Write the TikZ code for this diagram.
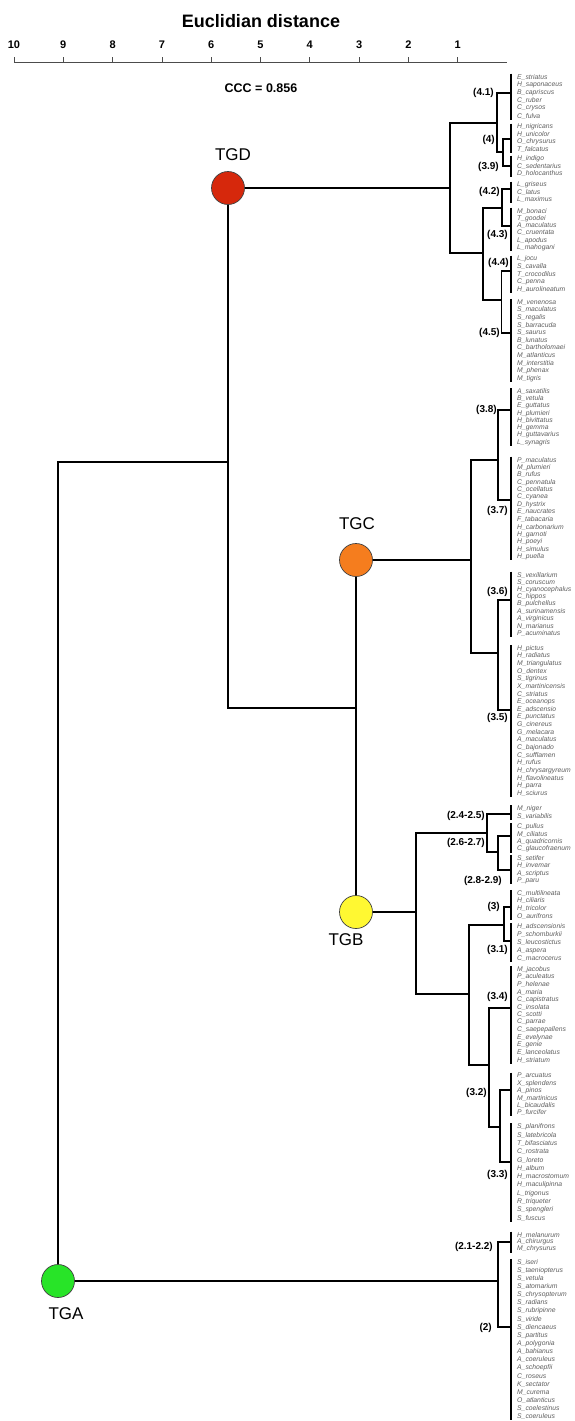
\documentclass[tikz,border=0pt]{standalone}
\usepackage{fontspec}
\setmainfont{Liberation Sans}
\definecolor{cD}{RGB}{214,40,12}
\definecolor{cC}{RGB}{245,125,30}
\definecolor{cB}{RGB}{255,248,50}
\definecolor{cA}{RGB}{40,228,40}
\definecolor{leafgray}{RGB}{95,95,95}
\tikzset{
  tr/.style={line width=1.6pt, line join=miter},
  bar/.style={line width=1.6pt},
  leaf/.style={anchor=west, inner sep=0pt, text=leafgray, font=\fontsize{6.8pt}{7pt}\selectfont\itshape},
  cl/.style={anchor=east, inner sep=0pt, font=\fontsize{10pt}{11pt}\selectfont\bfseries},
  tg/.style={circle, minimum size=33pt, inner sep=0pt, draw=black!75, line width=0.7pt},
  tgl/.style={inner sep=0pt, font=\fontsize{17pt}{18pt}\selectfont},
  tick/.style={inner sep=0pt, font=\fontsize{11pt}{12pt}\selectfont\bfseries},
}
\newcommand\clus[5]{%
  \pgfmathsetmacro\st{(#4-#3)/(#2-1)}
  \draw[bar] (511,{#3-3.5}) -- (511,{#4+3.5});
  \foreach \t [count=\i from 0] in {#5} {
    \node[leaf] (#1-\i) at (517,{#3+\i*\st}) {\t};
  }
}
\begin{document}
\begin{tikzpicture}[x=1pt,y=-1pt]
\useasboundingbox (0,0) rectangle (574,1421);
\fill[white] (0,0) rectangle (574,1421);
% axis
\node[inner sep=0pt, font=\fontsize{18pt}{20pt}\selectfont\bfseries] (title) at (261,21) {Euclidian distance};
\draw[black!70, line width=0.8pt] (14,62) -- (507,62);
\foreach \k in {1,...,10} {
  \draw[black!70, line width=0.8pt] ({507-49.3*\k},62) -- ({507-49.3*\k},57);
  \node[tick] (t\k) at ({507-49.3*\k},45) {\k};
}
\node[inner sep=0pt, font=\fontsize{12.5pt}{14pt}\selectfont\bfseries] (ccc) at (261,88) {CCC = 0.856};

% leaf clusters
\clus{c41}{6}{77}{116}{E\_striatus, H\_saponaceus, B\_capriscus, C\_ruber, C\_crysos, C\_fulva}
\clus{c4}{4}{127}{149}{H\_nigricans, H\_unicolor, O\_chrysurus, T\_falcatus}
\clus{c39}{3}{159}{173.3}{H\_indigo, C\_sedentarius, D\_holocanthus}
\clus{c42}{3}{185}{199}{L\_griseus, C\_latus, L\_maximus}
\clus{c43}{6}{211}{247.7}{M\_bonaci, T\_goodei, A\_maculatus, C\_cruentata, L\_apodus, L\_mahogani}
\clus{c44}{5}{259}{289}{L\_jocu, S\_cavalla, T\_crocodilus, C\_penna, H\_aurolineatum}
\clus{c45}{11}{302.3}{378.3}{M\_venenosa, S\_maculatus, S\_regalis, S\_barracuda, S\_saurus, B\_lunatus, C\_bartholomaei, M\_atlanticus, M\_interstitia, M\_phenax, M\_tigris}
\clus{c38}{8}{391.7}{442.3}{A\_saxatilis, B\_vetula, E\_guttatus, H\_plumieri, H\_bivittatus, H\_gemma, H\_guttavarius, L\_synagris}
\clus{c37}{14}{460}{556.7}{P\_maculatus, M\_plumieri, B\_rufus, C\_pennatula, C\_ocellatus, C\_cyanea, D\_hystrix, E\_naucrates, F\_tabacaria, H\_carbonarium, H\_garnoti, H\_poeyi, H\_simulus, H\_puella}
\clus{c36}{9}{575}{633.3}{S\_vexillarium, S\_coruscum, H\_cyanocephalus, C\_hippos, B\_pulchellus, A\_surinamensis, A\_virginicus, N\_marianus, P\_acuminatus}
\clus{c35}{20}{648.3}{793.3}{H\_pictus, H\_radiatus, M\_triangulatus, O\_dentex, S\_tigrinus, X\_martinicensis, C\_striatus, E\_oceanops, E\_adscensio, E\_punctatus, G\_cinereus, G\_melacara, A\_maculatus, C\_bajonado, C\_sufflamen, H\_rufus, H\_chrysargyreum, H\_flavolineatus, H\_parra, H\_sciurus}
\clus{c245}{2}{808.5}{816}{M\_niger, S\_variabilis}
\clus{c267}{4}{826.7}{849}{C\_pullus, M\_ciliatus, A\_quadricornis, C\_glaucofraenum}
\clus{c289}{4}{858.3}{880.7}{S\_setifer, H\_invemar, A\_scriptus, P\_paru}
\clus{c3}{4}{893.3}{916}{C\_multilineata, H\_ciliaris, H\_tricolor, O\_aurifrons}
\clus{c31}{5}{926.7}{958.3}{H\_adscensionis, P\_schomburkii, S\_leucostictus, A\_aspera, C\_macrocerus}
\clus{c34}{13}{969.3}{1060}{M\_jacobus, P\_aculeatus, P\_helenae, A\_maria, C\_capistratus, C\_insolata, C\_scotti, C\_parrae, C\_saepepallens, E\_evelynae, E\_genie, E\_lanceolatus, H\_striatum}
\clus{c32}{6}{1076}{1112.7}{P\_arcuatus, X\_splendens, A\_pinos, M\_martinicus, L\_bicaudalis, P\_furcifer}
\clus{c33}{12}{1126.7}{1218.3}{S\_planifrons, S\_latebricola, T\_bifasciatus, C\_rostrata, G\_loreto, H\_album, H\_macrostomum, H\_maculipinna, L\_trigonus, R\_triqueter, S\_spengleri, S\_fuscus}
\clus{c212}{3}{1235}{1249}{H\_melanurum, A\_chirurgus, M\_chrysurus}
\clus{c2}{20}{1262.3}{1416.7}{S\_iseri, S\_taeniopterus, S\_vetula, S\_atomarium, S\_chrysopterum, S\_radians, S\_rubripinne, S\_viride, S\_diencaeus, S\_partitus, A\_polygonia, A\_bahianus, A\_coeruleus, A\_schoepfii, C\_roseus, K\_sectator, M\_curema, O\_atlanticus, S\_coelestinus, S\_coeruleus}

% connection points on leaf bars
\coordinate (k41) at (511,93);
\coordinate (k4) at (511,139);
\coordinate (k39) at (511,166);
\coordinate (k42) at (511,189);
\coordinate (k43) at (511,226);
\coordinate (k44) at (511,271);
\coordinate (k45) at (511,333);
\coordinate (k38) at (511,410);
\coordinate (k37) at (511,500);
\coordinate (k36) at (511,600);
\coordinate (k35) at (511,710);
\coordinate (k245) at (511,814);
\coordinate (k267) at (511,836);
\coordinate (k289) at (511,870);
\coordinate (k3) at (511,907);
\coordinate (k31) at (511,941);
\coordinate (k34) at (511,1008);
\coordinate (k32) at (511,1090);
\coordinate (k33) at (511,1162);
\coordinate (k212) at (511,1242);
\coordinate (k2) at (511,1327);

% junctions
\coordinate (j439) at (503,152);
\coordinate (j41) at (497,123);
\coordinate (j4243) at (502,208);
\coordinate (j4445) at (501.5,300);
\coordinate (j4245) at (483,253);
\coordinate (jD) at (450,188);
\coordinate (j3837) at (498,460);
\coordinate (j3635) at (498,653);
\coordinate (jC) at (471,560);
\coordinate (j2629) at (498,852);
\coordinate (jBu) at (487,833);
\coordinate (j331) at (504,925);
\coordinate (j3233) at (500,1127);
\coordinate (j34) at (489,1065);
\coordinate (jBl) at (469,994);
\coordinate (jB) at (416,912);
\coordinate (jA) at (498,1281);

\coordinate (pD) at (228,188);
\coordinate (pC) at (356,560);
\coordinate (pB) at (356,912);
\coordinate (pA) at (58,1281);
\coordinate (r1) at (228,462);
\coordinate (r2) at (228,708);

% TGD subtree
\draw[tr] (k4) -| (j439) |- (k39);
\draw[tr] (k41) -| (j41) |- (j439);
\draw[tr] (k42) -| (j4243) |- (k43);
\draw[tr] (k44) -| (j4445) |- (k45);
\draw[tr] (j4243) -| (j4245) |- (j4445);
\draw[tr] (j41) -| (jD) |- (j4245);
\draw[tr] (jD) -- (pD);
% TGC subtree
\draw[tr] (k38) -| (j3837) |- (k37);
\draw[tr] (k36) -| (j3635) |- (k35);
\draw[tr] (j3837) -| (jC) |- (j3635);
\draw[tr] (jC) -- (pC);
% TGB subtree
\draw[tr] (k267) -| (j2629) |- (k289);
\draw[tr] (k245) -| (jBu) |- (j2629);
\draw[tr] (k3) -| (j331) |- (k31);
\draw[tr] (k32) -| (j3233) |- (k33);
\draw[tr] (k34) -| (j34) |- (j3233);
\draw[tr] (j331) -| (jBl) |- (j34);
\draw[tr] (jBu) -| (jB) |- (jBl);
\draw[tr] (jB) -- (pB);
% TGA subtree
\draw[tr] (k212) -| (jA) |- (k2);
\draw[tr] (jA) -- (pA);
% root
\draw[tr] (pA) |- (r1);
\draw[tr] (pD) -- (r2) -| (pC) -- (pB);

% group nodes
\node[tg, fill=cD] (TGD) at (pD) {};
\node[tg, fill=cC] (TGC) at (pC) {};
\node[tg, fill=cB] (TGB) at (pB) {};
\node[tg, fill=cA] (TGA) at (pA) {};
\node[tgl] (lD) at (233,155) {TGD};
\node[tgl] (lC) at (357,524) {TGC};
\node[tgl] (lB) at (346,940) {TGB};
\node[tgl] (lA) at (66,1314) {TGA};

% cluster labels
\node[cl] (l41) at (494,93) {(4.1)};
\node[cl] (l4) at (495,140) {(4)};
\node[cl] (l39) at (499,167) {(3.9)};
\node[cl] (l42) at (500,192) {(4.2)};
\node[cl] (l43) at (508,235) {(4.3)};
\node[cl] (l44) at (509,263) {(4.4)};
\node[cl] (l45) at (500,333) {(4.5)};
\node[cl] (l38) at (497,410) {(3.8)};
\node[cl] (l37) at (508,511) {(3.7)};
\node[cl] (l36) at (508,592) {(3.6)};
\node[cl] (l35) at (508,718) {(3.5)};
\node[cl] (l245) at (485,816) {(2.4-2.5)};
\node[cl] (l267) at (485,843) {(2.6-2.7)};
\node[cl] (l289) at (502,881) {(2.8-2.9)};
\node[cl] (l3) at (500,907) {(3)};
\node[cl] (l31) at (508,950) {(3.1)};
\node[cl] (l34) at (508,997) {(3.4)};
\node[cl] (l32) at (487,1093) {(3.2)};
\node[cl] (l33) at (508,1175) {(3.3)};
\node[cl] (l212) at (493,1247) {(2.1-2.2)};
\node[cl] (l2) at (492,1328) {(2)};
\end{tikzpicture}
\end{document}
